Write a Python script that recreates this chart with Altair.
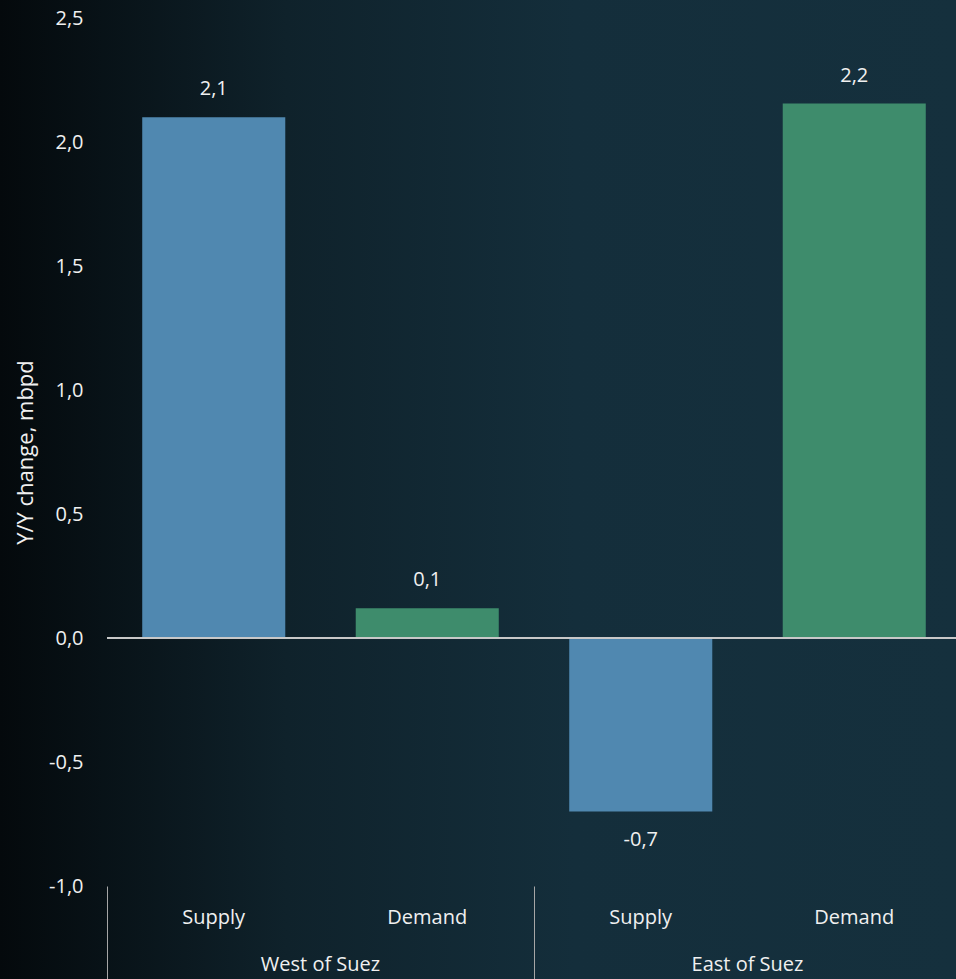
import altair as alt
import pandas as pd

regions = ["West of Suez", "West of Suez", "East of Suez", "East of Suez"]
types = ["Supply", "Demand", "Supply", "Demand"]
values = [2.10, 0.12, -0.70, 2.155]

region_order = ["West of Suez", "East of Suez"]
type_order = ["Supply", "Demand"]
y_ticks = [-1.0, -0.5, 0.0, 0.5, 1.0, 1.5, 2.0, 2.5]

df = pd.DataFrame({"region": regions, "type": types, "value": values})
reg_df = pd.DataFrame({"region": region_order})
zero_df = pd.DataFrame({"v": [0.0]})
bg_df = pd.DataFrame({"a": [0]})

FONT = "Open Sans"
TXT = "#f0f0f0"
W, H = 849, 868
XR = 854
FMT = "replace(replace(format(datum.value, '.1f'), '.', ','), '\u2212', '-')"

x_enc = alt.X(
    "region:N",
    sort=region_order,
    scale=alt.Scale(paddingInner=0, paddingOuter=0, range=[0, XR]),
    axis=alt.Axis(
        labels=False, title=None, domain=False, ticks=True, tickSize=93,
        tickColor="#a6a6a6", tickWidth=1, bandPosition=0, grid=False, zindex=1,
    ),
)
xoff_enc = alt.XOffset(
    "type:N", sort=type_order,
    scale=alt.Scale(paddingInner=0.33, paddingOuter=0.165),
)
y_enc = alt.Y(
    "value:Q",
    scale=alt.Scale(domain=[-1.0, 2.5], nice=False, zero=False),
    axis=alt.Axis(
        values=y_ticks,
        labelExpr=FMT,
        title="Y/Y change, mbpd",
        titleFont=FONT, titleFontSize=22, titleFontWeight="normal", titleColor=TXT,
        titlePadding=11,
        labelFont=FONT, labelFontSize=20, labelColor=TXT, labelPadding=24,
        domain=False, ticks=False, grid=False, zindex=1,
    ),
)

bg = alt.Chart(bg_df).mark_rect(
    fill=alt.Gradient(
        gradient="linear", x1=0, x2=1, y1=0, y2=0,
        stops=[
            alt.GradientStop(color="#04090c", offset=0),
            alt.GradientStop(color="#0f222b", offset=0.3),
            alt.GradientStop(color="#142e3b", offset=0.6),
            alt.GradientStop(color="#15303d", offset=1),
        ],
    )
).encode(
    x=alt.value(-107), x2=alt.value(W), y=alt.value(-18), y2=alt.value(H + 93)
)

bars = alt.Chart(df).mark_bar().encode(
    x=x_enc,
    xOffset=xoff_enc,
    y=y_enc,
    color=alt.Color(
        "type:N", scale=alt.Scale(domain=type_order, range=["#5088b0", "#3e8c6c"]),
        legend=None,
    ),
)

zero = alt.Chart(zero_df).mark_rule(color="#c8c8c8", strokeWidth=2).encode(
    y=alt.Y("v:Q")
)

lab_base = alt.Chart(df).transform_calculate(label=FMT)
pos_labels = lab_base.transform_filter("datum.value >= 0").mark_text(
    font=FONT, fontSize=20, color=TXT, baseline="middle", dy=-28
).encode(x=alt.X("region:N", sort=region_order), xOffset=alt.XOffset("type:N", sort=type_order),
         y="value:Q", text="label:N")
neg_labels = lab_base.transform_filter("datum.value < 0").mark_text(
    font=FONT, fontSize=20, color=TXT, baseline="middle", dy=28
).encode(x=alt.X("region:N", sort=region_order), xOffset=alt.XOffset("type:N", sort=type_order),
         y="value:Q", text="label:N")

type_labels = alt.Chart(df).mark_text(
    font=FONT, fontSize=20, color=TXT, baseline="middle"
).encode(
    x=alt.X("region:N", sort=region_order),
    xOffset=alt.XOffset("type:N", sort=type_order),
    y=alt.value(H + 32),
    text="type:N",
)

region_labels = alt.Chart(reg_df).mark_text(
    font=FONT, fontSize=20, color=TXT, baseline="middle"
).encode(
    x=alt.X("region:N", sort=region_order),
    y=alt.value(H + 79),
    text="region:N",
)

chart = alt.layer(
    bg, bars, zero, pos_labels, neg_labels, type_labels, region_labels
).properties(
    width=W, height=H,
    padding={"left": 107, "top": 18, "right": 0, "bottom": 93},
    autosize=alt.AutoSizeParams(type="none"),
    background="#0c1b23",
).configure_view(stroke=None)

chart.save("out.html", embed_options={"renderer": "svg", "actions": False})
